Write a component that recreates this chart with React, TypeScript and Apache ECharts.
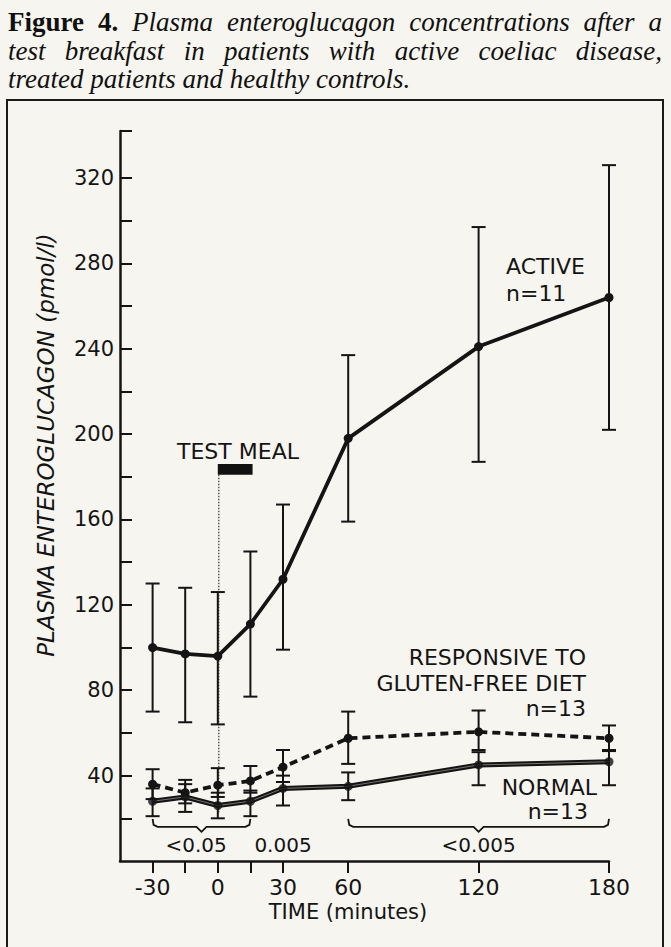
import React, { useEffect, useRef } from "react";
import * as echarts from "echarts";

// ---- data ----
const times = [-30, -15, 0, 15, 30, 60, 120, 180];
const activeMean = [100, 97, 96, 111, 132, 198, 241, 264];
const activeLow = [70, 65, 64, 77, 99, 159, 187, 202];
const activeHigh = [130, 128, 126, 145, 167, 237, 297, 326];
const respMean = [36, 32, 35.5, 37.5, 44, 57.5, 60.5, 57.5];
const respLow = [29, 27, 30, 32, 37, 45.5, 52, 51.5];
const respHigh = [43, 38, 43.5, 44.5, 52, 70, 70.5, 63.5];
const normMean = [28, 30, 26, 28, 34, 35, 45, 46.5];
const normLow = [21, 23, 20, 21, 26, 28.5, 35.5, 35.5];
const normHigh = [34, 36, 32, 33, 40, 41.5, 51, 52];

const xMin = -45;
const xMax = 180;
const xTicks = [-30, -15, 0, 15, 30, 60, 120, 180];
const xLabels = [-30, 0, 30, 60, 120, 180];
const yMin = 0;
const yMax = 342;
const yTicks = [20, 40, 60, 80, 100, 120, 140, 160, 180, 200, 220, 240, 260, 280, 300, 320, 342];
const yLabels = [40, 80, 120, 160, 200, 240, 280, 320];

// brackets: [from, to, notch, level]
const brackets = [
  [-30, 15, -7.5, 16],
  [60, 180, 120, 16],
];
// p-value labels: [x, y, text]
const pLabels: [number, number, string][] = [
  [-10, 7.5, "<0.05"],
  [30, 7.5, "0.005"],
  [120, 7.5, "<0.005"],
];
// test meal bar: [start, end, low, high, dottedBottom]
const testMeal = [[0, 16, 181, 186, 22]];

const titleLines = [
  [["Figure", "b"], ["4.", "b"], ["Plasma", "i"], ["enteroglucagon", "i"], ["concentrations", "i"], ["after", "i"], ["a", "i"]],
  [["test", "i"], ["breakfast", "i"], ["in", "i"], ["patients", "i"], ["with", "i"], ["active", "i"], ["coeliac", "i"], ["disease,", "i"]],
  [["treated", "i"], ["patients", "i"], ["and", "i"], ["healthy", "i"], ["controls.", "i"]],
];

const INK = "#141414";
const SANS = '"DejaVu Sans", sans-serif';
const SERIF_NAME = "Liberation Serif";

function pts(ys: number[]) {
  return times.map((t, i) => [t, ys[i]]);
}
function errData(lo: number[], hi: number[]) {
  return times.map((t, i) => [t, lo[i], hi[i]]);
}

function errorSeries(lo: number[], hi: number[], name: string) {
  return {
    type: "custom",
    name,
    z: 3,
    data: errData(lo, hi),
    encode: { x: 0, y: [1, 2] },
    renderItem: (params: any, api: any) => {
      const x = api.value(0);
      const a = api.coord([x, api.value(1)]);
      const b = api.coord([x, api.value(2)]);
      const w = 7;
      const st = { stroke: INK, lineWidth: 2 };
      return {
        type: "group",
        children: [
          { type: "line", shape: { x1: a[0], y1: a[1], x2: b[0], y2: b[1] }, style: st },
          { type: "line", shape: { x1: a[0] - w, y1: a[1], x2: a[0] + w, y2: a[1] }, style: st },
          { type: "line", shape: { x1: b[0] - w, y1: b[1], x2: b[0] + w, y2: b[1] }, style: st },
        ],
      };
    },
  };
}

function buildTitle(): any[] {
  const cv = document.createElement("canvas");
  const ctx = cv.getContext("2d")!;
  const fontFor = (k: string, s: number) =>
    k === "b" ? `bold ${s}px "${SERIF_NAME}"` : `italic ${s}px "${SERIF_NAME}"`;
  // fit last (unjustified) line to its width in the reference
  const last = titleLines[titleLines.length - 1].map((w) => w[0]).join(" ");
  ctx.font = fontFor("i", 20);
  const w20 = ctx.measureText(last).width;
  const size = Math.max(20, Math.min(27, (20 * 424) / w20));
  const left = 8;
  const right = 662;
  const ys = [22, 51, 79];
  const out: any[] = [];
  titleLines.forEach((words, li) => {
    const widths = words.map(([w, k]) => {
      ctx.font = fontFor(k, size);
      return ctx.measureText(w).width;
    });
    const total = widths.reduce((s, v) => s + v, 0);
    ctx.font = fontFor("i", size);
    let gap = ctx.measureText(" ").width;
    if (li < titleLines.length - 1) gap = (right - left - total) / (words.length - 1);
    let x = left;
    words.forEach(([w, k], i) => {
      out.push({
        type: "text",
        x,
        y: ys[li],
        style: {
          text: w,
          fontFamily: `"${SERIF_NAME}", serif`,
          fontSize: size,
          fontStyle: k === "b" ? "normal" : "italic",
          fontWeight: k === "b" ? "bold" : "normal",
          fill: "#111",
          align: "left",
          verticalAlign: "middle",
        },
      });
      x += widths[i] + gap;
    });
  });
  return out;
}

function label(text: string, x: number, y: number, align: string, size = 22, extra: any = {}) {
  return {
    type: "text",
    x,
    y,
    style: {
      text,
      fontFamily: SANS,
      fontSize: size,
      fill: INK,
      align,
      verticalAlign: "middle",
      ...extra,
    },
  };
}

export default function App() {
  const ref = useRef<HTMLDivElement>(null);
  useEffect(() => {
    const chart = echarts.init(ref.current!, null, { renderer: "svg" });
    const lineSym = { symbol: "circle", symbolSize: 9 };
    const option: any = {
      animation: false,
      backgroundColor: "#f7f5ef",
      grid: { left: 120, right: 62, top: 131, bottom: 86, containLabel: false },
      xAxis: {
        type: "value",
        min: xMin,
        max: xMax,
        axisLine: { show: true, onZero: false, lineStyle: { color: INK, width: 2.5 } },
        axisTick: { show: true, inside: false, length: 12, customValues: xTicks, lineStyle: { color: INK, width: 2 } },
        axisLabel: { customValues: xLabels, margin: 15, fontSize: 22, fontFamily: SANS, color: INK },
        splitLine: { show: false },
      },
      yAxis: {
        type: "value",
        min: yMin,
        max: yMax,
        axisLine: { show: true, onZero: false, lineStyle: { color: INK, width: 2.5 } },
        axisTick: { show: true, inside: true, length: 12, customValues: yTicks, lineStyle: { color: INK, width: 2 } },
        axisLabel: { customValues: yLabels, margin: 6, fontSize: 21, fontFamily: SANS, color: INK },
        splitLine: { show: false },
      },
      series: [
        errorSeries(activeLow, activeHigh, "activeErr"),
        errorSeries(respLow, respHigh, "respErr"),
        errorSeries(normLow, normHigh, "normErr"),
        {
          type: "line",
          name: "Active",
          data: pts(activeMean),
          ...lineSym,
          itemStyle: { color: INK },
          lineStyle: { color: INK, width: 3.8 },
          z: 5,
        },
        {
          type: "line",
          name: "Responsive",
          data: pts(respMean),
          ...lineSym,
          itemStyle: { color: INK },
          lineStyle: { color: INK, width: 3.8, type: [8, 5] },
          z: 5,
        },
        {
          type: "line",
          name: "Normal",
          data: pts(normMean),
          symbol: "none",
          lineStyle: { color: INK, width: 5 },
          z: 5,
        },
        {
          type: "line",
          name: "NormalInner",
          data: pts(normMean),
          symbol: "none",
          lineStyle: { color: "#8d8b84", width: 0.8 },
          z: 6,
        },
        {
          type: "scatter",
          name: "NormalPts",
          data: pts(normMean),
          symbol: "circle",
          symbolSize: 9,
          itemStyle: { color: INK },
          z: 7,
        },
        {
          type: "custom",
          name: "brackets",
          data: brackets,
          encode: { x: [0, 1], y: 3 },
          renderItem: (params: any, api: any) => {
            const a = api.coord([api.value(0), api.value(3)]);
            const b = api.coord([api.value(1), api.value(3)]);
            const m = api.coord([api.value(2), api.value(3)]);
            const y = a[1];
            return {
              type: "polyline",
              shape: {
                points: [
                  [a[0], y - 8],
                  [a[0] + 1, y - 2],
                  [a[0] + 5, y],
                  [m[0] - 5, y],
                  [m[0], y + 5],
                  [m[0] + 5, y],
                  [b[0] - 5, y],
                  [b[0] - 1, y - 2],
                  [b[0], y - 8],
                ],
              },
              style: { stroke: INK, lineWidth: 1.8, fill: null },
            };
          },
        },
        {
          type: "custom",
          name: "pvals",
          data: pLabels,
          encode: { x: 0, y: 1 },
          renderItem: (params: any, api: any) => {
            const p = api.coord([api.value(0), api.value(1)]);
            return {
              type: "text",
              x: p[0],
              y: p[1],
              style: {
                text: pLabels[params.dataIndex][2],
                fontFamily: SANS,
                fontSize: 20,
                fill: INK,
                align: "center",
                verticalAlign: "middle",
              },
            };
          },
        },
        {
          type: "custom",
          name: "testmeal",
          data: testMeal,
          encode: { x: [0, 1], y: [2, 3] },
          renderItem: (params: any, api: any) => {
            const tl = api.coord([api.value(0), api.value(3)]);
            const br = api.coord([api.value(1), api.value(2)]);
            const bot = api.coord([api.value(0), api.value(4)]);
            return {
              type: "group",
              children: [
                {
                  type: "rect",
                  shape: { x: tl[0], y: tl[1], width: br[0] - tl[0], height: br[1] - tl[1] },
                  style: { fill: "#111" },
                },
                {
                  type: "line",
                  shape: { x1: tl[0] + 1, y1: br[1], x2: tl[0] + 1, y2: bot[1] },
                  style: { stroke: "#333", lineWidth: 1.2, lineDash: [1.5, 1.5] },
                },
              ],
            };
          },
        },
      ],
      graphic: [
        {
          type: "rect",
          shape: { x: 7, y: 100, width: 656, height: 900 },
          style: { fill: "none", stroke: "#1a1a1a", lineWidth: 2 },
          silent: true,
        },
        ...buildTitle(),
        label("TEST MEAL", 238, 451, "center", 22),
        label("ACTIVE", 506, 266, "left", 22),
        label("n=11", 506, 293, "left", 22),
        label("RESPONSIVE TO", 586, 657, "right", 22),
        label("GLUTEN-FREE DIET", 586, 683, "right", 22),
        label("n=13", 586, 708, "right", 22),
        label("NORMAL", 597, 787, "right", 22),
        label("n=13", 588, 811, "right", 22),
        label("TIME (minutes)", 348, 912, "center", 21),
        {
          type: "text",
          x: 46,
          y: 445,
          rotation: Math.PI / 2,
          style: {
            text: "PLASMA ENTEROGLUCAGON (pmol/l)",
            fontFamily: SANS,
            fontStyle: "italic",
            fontSize: 23,
            fill: INK,
            align: "center",
            verticalAlign: "middle",
          },
        },
      ],
    };
    chart.setOption(option);
    return () => chart.dispose();
  }, []);
  return (
    <div
      ref={ref}
      style={{ position: "absolute", left: 0, top: 0, width: 671, height: 947, background: "#f7f5ef" }}
    />
  );
}
